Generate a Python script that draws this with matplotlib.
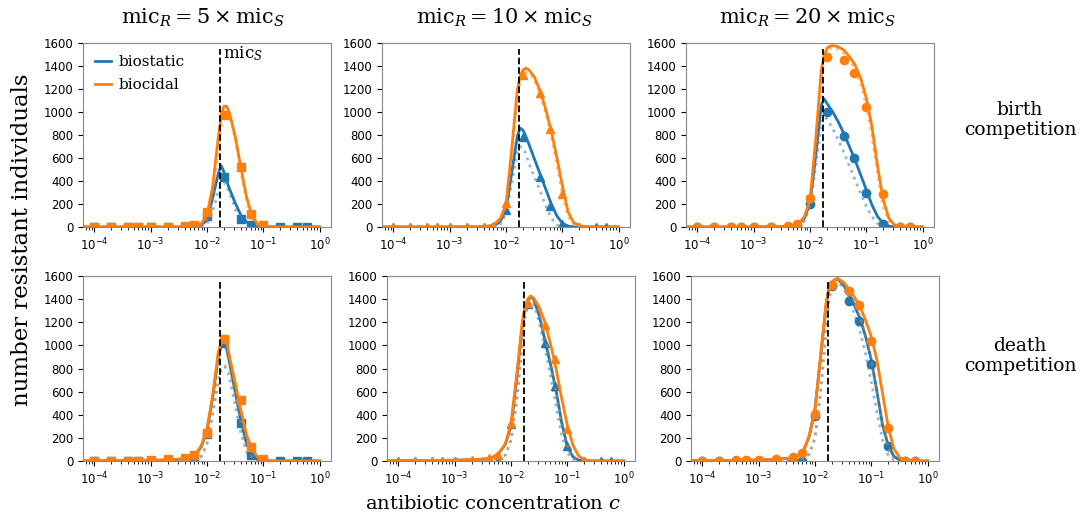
import numpy as np
import matplotlib
matplotlib.use("Agg")
import matplotlib.pyplot as plt

plt.rcParams['mathtext.fontset'] = 'dejavuserif'

BLUE = '#1f77b4'
ORANGE = '#ff7f0e'

# concentrations of the simulation points
conc = [1e-4, 2e-4, 4e-4, 6e-4, 1e-3, 2e-3, 4e-3, 6e-3,
        1e-2, 2e-2, 4e-2, 6e-2, 1e-1, 2e-1, 4e-1, 6e-1]
nan = np.nan

# simulated points, key = (row, col): row = competition type, col = mic ratio
pts_static = {
    (0, 0): [0, 0, 0, 0, 0, 0, 0, 0, 93, 436, 73, 15, 2, 0, 0, 0],
    (0, 1): [0, 0, 0, 0, 0, 0, 0, 0, 148, 786, 438, 186, 23, 0, 0, 0],
    (0, 2): [0, 0, 0, 0, 0, 0, 0, 0, 200, 997, 791, 597, 293, 26, 0, 0],
    (1, 0): [0, 0, 0, 0, 0, 0, 0, 0, 230, 1017, 331, 49, 5, 0, 0, 0],
    (1, 1): [0, 0, 0, 0, 0, 0, 0, 0, 320, 1360, 1023, 652, 127, 0, 0, 0],
    (1, 2): [0, 0, 0, 0, 0, 0, 0, 0, 390, 1510, 1380, 1215, 843, 134, 0, 0],
}
pts_cidal = {
    (0, 0): [0, 0, 0, 0, 0, 0, 5, 20, 131, 975, 518, 110, 15, nan, nan, nan],
    (0, 1): [0, 0, 0, 0, 0, 0, 0, 10, 206, 1322, 1168, 849, 287, 0, nan, nan],
    (0, 2): [0, 0, 0, 0, 0, 0, 12, 23, 249, 1475, 1452, 1336, 1046, 287, 0, 0],
    (1, 0): [4, 4, 4, 4, 5, 17, 29, 49, 239, 1052, 527, 124, 14, nan, nan, nan],
    (1, 1): [3, 3, 3, 3, 3, 5, 26, 55, 331, 1369, 1173, 879, 280, 0, nan, nan],
    (1, 2): [4, 4, 5, 5, 9, 14, 32, 65, 404, 1523, 1470, 1345, 1037, 285, 0, 0],
}

# theory curves, sampled at log10(c)
curve_logc = [-4.2, -3.5, -3.0, -2.7, -2.5, -2.4, -2.3, -2.2, -2.1, -2.0,
              -1.9, -1.8, -1.75, -1.7, -1.65, -1.6, -1.5, -1.4, -1.3, -1.2,
              -1.1, -1.0, -0.9, -0.8, -0.7, -0.6, -0.5, -0.4, -0.2, 0.0]

static_solid = {
    (0, 0): [0, 0, 0, 0, 0, 1, 2, 5, 18, 60, 250, 465, 535, 480, 400, 330, 210, 105, 45, 12, 2, 0, 0, 0, 0, 0, 0, 0, 0, 0],
    (0, 1): [0, 0, 0, 0, 1, 2, 5, 15, 50, 150, 467, 786, 860, 843, 790, 728, 597, 467, 336, 206, 99, 32, 8, 0, 0, 0, 0, 0, 0, 0],
    (0, 2): [0, 0, 0, 1, 2, 4, 10, 25, 75, 206, 612, 1061, 1115, 1075, 1040, 1003, 916, 814, 699, 583, 452, 322, 191, 90, 32, 8, 1, 0, 0, 0],
    (1, 0): [1, 2, 5, 9, 14, 19, 28, 55, 125, 260, 545, 900, 990, 1010, 970, 850, 600, 350, 150, 45, 10, 2, 0, 0, 0, 0, 0, 0, 0, 0],
    (1, 1): [2, 4, 7, 11, 16, 19, 38, 75, 145, 300, 700, 1170, 1320, 1390, 1420, 1400, 1260, 1050, 840, 610, 330, 125, 35, 8, 1, 0, 0, 0, 0, 0],
    (1, 2): [3, 5, 8, 14, 22, 26, 48, 90, 218, 445, 900, 1365, 1495, 1545, 1568, 1575, 1525, 1447, 1346, 1231, 1072, 871, 597, 308, 135, 40, 8, 1, 0, 0],
}
static_dotted = {
    (0, 0): [0, 0, 0, 0, 0, 0, 0, 2, 6, 25, 130, 310, 370, 385, 360, 300, 160, 55, 12, 2, 0, 0, 0, 0, 0, 0, 0, 0, 0, 0],
    (0, 1): [0, 0, 0, 0, 0, 1, 2, 6, 25, 110, 370, 650, 700, 690, 640, 560, 440, 320, 190, 80, 20, 3, 0, 0, 0, 0, 0, 0, 0, 0],
    (0, 2): [0, 0, 0, 0, 1, 2, 5, 15, 50, 180, 520, 900, 960, 940, 900, 860, 760, 650, 530, 410, 290, 180, 90, 30, 5, 0, 0, 0, 0, 0],
    (1, 0): [0, 0, 0, 1, 2, 3, 6, 12, 40, 150, 400, 700, 790, 820, 800, 720, 480, 240, 80, 15, 2, 0, 0, 0, 0, 0, 0, 0, 0, 0],
    (1, 1): [0, 0, 1, 3, 6, 8, 14, 25, 50, 180, 520, 1000, 1250, 1350, 1380, 1370, 1200, 980, 740, 470, 220, 70, 15, 2, 0, 0, 0, 0, 0, 0],
    (1, 2): [0, 0, 1, 3, 6, 9, 15, 20, 60, 200, 600, 1150, 1400, 1520, 1550, 1555, 1500, 1400, 1270, 1120, 920, 680, 420, 180, 50, 8, 0, 0, 0, 0],
}
cidal_solid = {
    (0, 0): [0, 0, 0, 0, 1, 2, 4, 10, 30, 105, 350, 780, 960, 1050, 1050, 990, 790, 520, 265, 95, 25, 6, 1, 0, 0, 0, 0, 0, 0, 0],
    (0, 1): [0, 0, 0, 1, 2, 4, 10, 26, 75, 195, 670, 1190, 1310, 1365, 1380, 1371, 1307, 1191, 1032, 843, 612, 360, 133, 38, 12, 3, 0, 0, 0, 0],
    (0, 2): [0, 0, 0, 1, 3, 5, 12, 30, 90, 235, 757, 1365, 1490, 1554, 1572, 1577, 1568, 1539, 1481, 1409, 1293, 1119, 872, 525, 235, 75, 17, 4, 0, 0],
    (1, 0): [2, 3, 6, 10, 16, 22, 32, 60, 135, 280, 568, 943, 1030, 1058, 1040, 900, 680, 440, 230, 95, 35, 10, 2, 0, 0, 0, 0, 0, 0, 0],
    (1, 1): [2, 4, 7, 11, 17, 20, 40, 78, 150, 323, 741, 1202, 1340, 1404, 1427, 1410, 1332, 1202, 1015, 798, 539, 308, 135, 43, 14, 3, 0, 0, 0, 0],
    (1, 2): [3, 5, 8, 14, 22, 26, 49, 92, 222, 453, 914, 1375, 1500, 1548, 1568, 1580, 1548, 1490, 1418, 1332, 1216, 1072, 871, 582, 294, 107, 29, 6, 0, 0],
}
cidal_dotted = {
    (0, 0): [0, 0, 0, 0, 0, 0, 1, 3, 10, 60, 250, 650, 850, 980, 990, 950, 770, 480, 220, 60, 12, 2, 0, 0, 0, 0, 0, 0, 0, 0],
    (0, 1): [0, 0, 0, 0, 1, 2, 5, 15, 45, 150, 560, 1100, 1270, 1330, 1345, 1345, 1280, 1160, 1000, 790, 540, 280, 90, 20, 3, 0, 0, 0, 0, 0],
    (0, 2): [0, 0, 0, 0, 1, 3, 8, 20, 60, 200, 650, 1300, 1460, 1530, 1550, 1560, 1545, 1510, 1450, 1370, 1240, 1050, 780, 440, 170, 40, 5, 0, 0, 0],
    (1, 0): [0, 0, 0, 1, 2, 3, 6, 12, 40, 150, 400, 700, 790, 825, 815, 790, 580, 330, 130, 35, 5, 0, 0, 0, 0, 0, 0, 0, 0, 0],
    (1, 1): [0, 0, 1, 3, 6, 8, 14, 25, 50, 180, 520, 1000, 1250, 1350, 1380, 1380, 1270, 1090, 860, 600, 330, 130, 35, 5, 0, 0, 0, 0, 0, 0],
    (1, 2): [0, 0, 1, 3, 6, 9, 15, 20, 60, 200, 600, 1150, 1400, 1520, 1555, 1565, 1530, 1460, 1370, 1250, 1090, 870, 590, 300, 110, 20, 2, 0, 0, 0],
}

mic_s = 0.017
ratios = [5, 10, 20]
markers = ['s', '^', 'o']
row_labels = ['birth\ncompetition', 'death\ncompetition']

W, H = 1091, 514
fig = plt.figure(figsize=(W / 100, H / 100), dpi=100)

# axes boxes in pixels: left, top, right, bottom
boxes = {
    (0, 0): (83, 43, 331, 227), (0, 1): (382, 43, 630, 227), (0, 2): (686, 43, 934, 227),
    (1, 0): (83, 276, 331, 461), (1, 1): (387, 276, 635, 461), (1, 2): (691, 276, 939, 461),
}
title_x = [203, 505, 808]
row_label_y = [120, 356]

curve_c = 10 ** np.array(curve_logc)
for (r, k), (l, t, rt, b) in boxes.items():
    ax = fig.add_axes([l / W, 1 - b / H, (rt - l) / W, (b - t) / H])
    ax.plot(curve_c, static_dotted[(r, k)], ':', color=BLUE, lw=2, alpha=0.5)
    ax.plot(curve_c, static_solid[(r, k)], '-', color=BLUE, lw=2, label='biostatic')
    ax.plot(conc, pts_static[(r, k)], markers[k], color=BLUE, ms=6, ls='none')
    ax.plot(curve_c, cidal_dotted[(r, k)], ':', color=ORANGE, lw=2, alpha=0.5)
    ax.plot(curve_c, cidal_solid[(r, k)], '-', color=ORANGE, lw=2, label='biocidal')
    ax.plot(conc, pts_cidal[(r, k)], markers[k], color=ORANGE, ms=6, ls='none')
    ax.vlines(mic_s, 0, 1550, colors='k', linestyles='--', lw=1.3)

    ax.set_xscale('log')
    ax.set_xlim(10 ** -4.2, 10 ** 0.2)
    ax.set_ylim(0, 1600)
    ax.set_yticks(np.arange(0, 1601, 200))
    ax.set_xticks([1e-4, 1e-3, 1e-2, 1e-1, 1e0])
    ax.tick_params(labelsize=8.5)
    for sp in ax.spines.values():
        sp.set_color('#888888')

    if r == 0:
        fig.text(title_x[k] / W, 1 - 18 / H,
                 r'$\mathrm{mic}_R = %d \times \mathrm{mic}_S$' % ratios[k],
                 ha='center', va='center', fontsize=15)
    if r == 0 and k == 0:
        ax.legend(loc='upper left', frameon=False, handlelength=1.0,
                  handletextpad=0.5, prop={'family': 'DejaVu Serif', 'size': 11},
                  borderaxespad=0.4, labelspacing=0.6)
        ax.text(mic_s * 1.15, 1470, r'$\mathrm{mic}_S$', fontsize=12)
    if k == 2:
        fig.text(1020 / W, 1 - row_label_y[r] / H, row_labels[r],
                 ha='center', va='center', family='DejaVu Serif', fontsize=13.5,
                 linespacing=1.1)

fig.text(22 / W, 1 - 240 / H, 'number resistant individuals', rotation=90,
         ha='center', va='center', family='DejaVu Serif', fontsize=16.5)
fig.text(493 / W, 1 - 504 / H, r'antibiotic concentration $c$',
         ha='center', va='center', family='DejaVu Serif', fontsize=14)

fig.savefig('out.png', dpi=100)
